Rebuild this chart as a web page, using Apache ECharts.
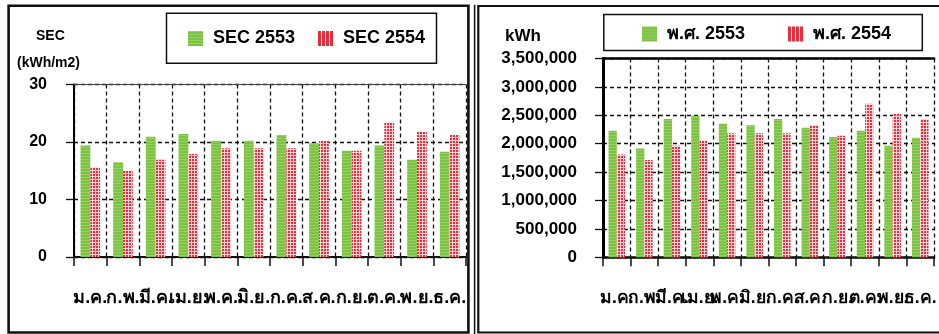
<!DOCTYPE html>
<html>
<head>
<meta charset="utf-8">
<script src="https://cdn.jsdelivr.net/npm/echarts@6/dist/echarts.min.js"></script>
<style>
  html, body { margin: 0; padding: 0; background: #fff; }
  #chart { width: 939px; height: 334px; }
</style>
</head>
<body>
<div id="chart"></div>
<script>
// Month categories (Thai abbreviations)
const months = ['ม.ค.', 'ก.พ.', 'มี.ค.', 'เม.ย.', 'พ.ค.', 'มิ.ย.', 'ก.ค.', 'ส.ค.', 'ก.ย.', 'ต.ค.', 'พ.ย.', 'ธ.ค.'];

// Specific energy consumption, kWh/m2
const sec2553 = [19.4, 16.5, 20.9, 21.4, 20.2, 20.2, 21.2, 19.8, 18.5, 19.4, 16.9, 18.3];
const sec2554 = [15.6, 15.0, 16.9, 17.9, 18.9, 18.9, 18.9, 20.2, 18.5, 23.4, 21.8, 21.2];

// Monthly electricity use, kWh
const kwh2553 = [2230000, 1915000, 2435000, 2490000, 2350000, 2325000, 2435000, 2280000, 2120000, 2230000, 1965000, 2105000];
const kwh2554 = [1810000, 1715000, 1965000, 2055000, 2185000, 2185000, 2185000, 2325000, 2140000, 2705000, 2525000, 2435000];

// Value axis ticks
const secTicks = [0, 10, 20, 30];
const kwhTicks = [0, 500000, 1000000, 1500000, 2000000, 2500000, 3000000, 3500000];

const FONT = '"Liberation Sans", Arial, "Noto Sans", sans-serif';

// Fill patterns for the bars
function makePattern(w, h, draw) {
  const c = document.createElement('canvas');
  c.width = w; c.height = h;
  draw(c.getContext('2d'));
  return { image: c, repeat: 'repeat' };
}
const greenFill = makePattern(4, 3, g => {
  g.fillStyle = '#7cc243'; g.fillRect(0, 0, 4, 3);
  g.fillStyle = '#97d162'; g.fillRect(0, 0, 4, 1);
});
const redFill = makePattern(3, 3, g => {
  g.fillStyle = '#fbd3d6'; g.fillRect(0, 0, 3, 3);
  g.fillStyle = '#e82d3c'; g.fillRect(0, 0, 2, 2);
});
const redStripe = makePattern(4, 1, g => {
  g.fillStyle = '#ffffff'; g.fillRect(0, 0, 4, 1);
  g.fillStyle = '#e82d3c'; g.fillRect(0, 0, 3, 1);
});

const dashed = { type: [4, 3], color: '#111', width: 1.3 };
const labelStyle = { color: '#000', fontWeight: 'bold', fontFamily: FONT };

function catAxis(gridIndex, lineWidth, fontSize) {
  return {
    gridIndex, type: 'category', data: months, position: 'bottom',
    axisLine: { lineStyle: { color: '#111', width: lineWidth } },
    axisTick: { show: true, interval: 0, length: 9, lineStyle: { color: '#111', width: 1.5 } },
    splitLine: { show: true, interval: 0, lineStyle: dashed },
    axisLabel: Object.assign({ interval: 0, margin: 32, fontSize }, labelStyle)
  };
}
function topAxis(gridIndex, lineWidth, color) {
  return {
    gridIndex, type: 'category', data: months, position: 'top',
    axisLine: { show: true, lineStyle: { color, width: lineWidth } },
    axisTick: { show: false }, axisLabel: { show: false }, splitLine: { show: false }
  };
}
function valAxis(gridIndex, ticks, lineWidth, fontSize, margin) {
  return {
    gridIndex, type: 'value',
    min: ticks[0], max: ticks[ticks.length - 1], interval: ticks[1] - ticks[0],
    axisLine: { show: true, lineStyle: { color: '#000', width: lineWidth } },
    axisTick: { show: true, length: 8, lineStyle: { color: '#111', width: 1.3 } },
    splitLine: { show: true, lineStyle: dashed },
    axisLabel: Object.assign({
      margin, fontSize,
      formatter: v => v.toLocaleString('en-US')
    }, labelStyle)
  };
}
function barSeries(name, data, xi, yi, fill) {
  return {
    name, type: 'bar', data, xAxisIndex: xi, yAxisIndex: yi,
    barWidth: '30%', barGap: '0%',
    itemStyle: { color: fill }
  };
}
function legendItem(name, left, top, fontSize, icon) {
  return {
    data: [name], left, top, padding: 0,
    itemWidth: 15, itemHeight: 15, icon: 'rect',
    itemStyle: { color: icon },
    selectedMode: false,
    textStyle: Object.assign({ fontSize, padding: [0, 0, 0, 5] }, labelStyle)
  };
}

const chart = echarts.init(document.getElementById('chart'), null, { renderer: 'canvas' });
chart.setOption({
  backgroundColor: '#fff',
  animation: false,
  grid: [
    { left: 74, top: 84.5, width: 392, height: 172.5 },
    { left: 603, top: 58.5, width: 344.4, height: 198.8 }
  ],
  xAxis: [
    catAxis(0, 2, 18), topAxis(0, 1, '#444'),
    catAxis(1, 2.7, 17.5), topAxis(1, 2.7, '#000')
  ],
  yAxis: [
    valAxis(0, secTicks, 2, 16, 27),
    valAxis(1, kwhTicks, 3, 17, 26)
  ],
  legend: [
    legendItem('SEC 2553', 188, 29.5, 18, greenFill),
    legendItem('SEC 2554', 318, 29.5, 18, redStripe),
    legendItem('พ.ศ. 2553', 642, 25, 18, greenFill),
    legendItem('พ.ศ. 2554', 788, 25, 18, redStripe)
  ],
  series: [
    barSeries('SEC 2553', sec2553, 0, 0, greenFill),
    barSeries('SEC 2554', sec2554, 0, 0, redFill),
    barSeries('พ.ศ. 2553', kwh2553, 2, 1, greenFill),
    barSeries('พ.ศ. 2554', kwh2554, 2, 1, redFill)
  ],
  graphic: [
    // panel frames
    { type: 'rect', shape: { x: 8.6, y: 5.8, width: 459.8, height: 326.7 },
      style: { fill: null, stroke: '#111', lineWidth: 2.6 }, silent: true },
    { type: 'line', shape: { x1: 474.6, y1: 4.8, x2: 474.6, y2: 334 },
      style: { stroke: '#111', lineWidth: 1.5 }, silent: true },
    { type: 'rect', shape: { x: 478.3, y: 6, width: 600, height: 326.5 },
      style: { fill: null, stroke: '#111', lineWidth: 2.2 }, silent: true },
    // legend frames
    { type: 'rect', shape: { x: 166.5, y: 13.2, width: 270, height: 50 },
      style: { fill: null, stroke: '#111', lineWidth: 1.5 }, silent: true },
    { type: 'rect', shape: { x: 603.8, y: 14.5, width: 318.5, height: 36 },
      style: { fill: null, stroke: '#111', lineWidth: 1.5 }, silent: true },
    // axis titles
    { type: 'text', left: 36, top: 29.5,
      style: { text: 'SEC', font: 'bold 14px ' + FONT, fill: '#000' } },
    { type: 'text', left: 17, top: 56.5,
      style: { text: '(kWh/m2)', font: 'bold 14px ' + FONT, fill: '#000' } },
    { type: 'text', left: 505, top: 27.5,
      style: { text: 'kWh', font: 'bold 17px ' + FONT, fill: '#000' } }
  ]
});
</script>
</body>
</html>
